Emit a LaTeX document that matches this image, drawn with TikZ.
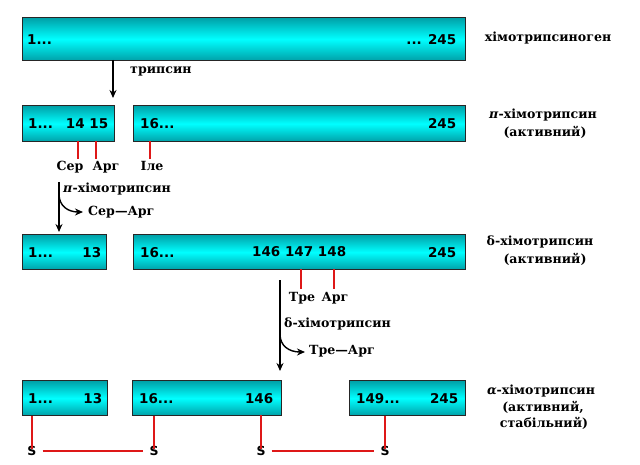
\documentclass[tikz,border=0pt]{standalone}
\usepackage{fontspec}
\setmainfont{DejaVu Serif}
\newfontfamily\numfont{DejaVu Sans}
\usetikzlibrary{arrows.meta}
\definecolor{boxdark}{RGB}{0,160,168}
\definecolor{boxlight}{RGB}{0,255,255}
\definecolor{tick}{RGB}{222,24,24}
\begin{document}
\begin{tikzpicture}[x=1pt,y=-1pt,
  box/.style={draw=black!85, line width=1.4pt, top color=boxdark, bottom color=boxdark, middle color=boxlight, inner sep=0pt, anchor=north west},
  num/.style={font=\numfont\bfseries\fontsize{13.5}{14}\selectfont, inner sep=0pt},
  lab/.style={font=\bfseries\fontsize{12.6}{14}\selectfont, inner sep=0pt, anchor=mid},
  labw/.style={lab, anchor=mid west},
  ess/.style={font=\numfont\bfseries\fontsize{12.5}{14}\selectfont, inner sep=0pt},
  redtick/.style={draw=tick, line width=2.4pt},
  redlink/.style={draw=tick, line width=2pt},
  arr/.style={draw=black, line width=1.4pt, -{Stealth[length=8pt,width=7pt]}}
]
\useasboundingbox (0,0) rectangle (640,465);

% ---- row 1
\node[box, minimum width=443pt, minimum height=43pt] (z) at (22,17) {};
\node[num, anchor=west] (z1) at ([xshift=5pt]z.west) {1...};
\node[num, anchor=east] (z2) at ([xshift=-10pt]z.east) {... 245};
\node[lab] (lz) at (548,39) {хімотрипсиноген};

% ---- row 2
\node[box, minimum width=92pt, minimum height=36pt] (p1) at (22,105) {};
\node[box, minimum width=332pt, minimum height=36pt] (p2) at (133,105) {};
\node[num, anchor=west] (p1a) at ([xshift=6pt]p1.west) {1...};
\node[num, anchor=east] (p1b) at ([xshift=-7pt]p1.east) {14 15};
\node[num, anchor=west] (p2a) at ([xshift=7pt]p2.west) {16...};
\node[num, anchor=east] (p2b) at ([xshift=-10pt]p2.east) {245};
\node[lab] (lp1) at (543,116) {\textit{π}-хімотрипсин};
\node[lab] (lp2) at (545,134) {(активний)};

\coordinate (t1a) at (77.7,141); \coordinate (t1b) at (77.7,159);
\coordinate (t2a) at (96,141);   \coordinate (t2b) at (96,159);
\coordinate (t3a) at (150,141);  \coordinate (t3b) at (150,159);
\draw[redtick] (t1a) -- (t1b);
\draw[redtick] (t2a) -- (t2b);
\draw[redtick] (t3a) -- (t3b);
\node[lab] (ser1) at (70,168) {Сер};
\node[lab] (arg1) at (106,168) {Арг};
\node[lab] (ile) at (152,168) {Іле};

% arrow 1
\coordinate (a1s) at (113,60);
\coordinate (a1e) at (113,98);
\draw[arr] (a1s) -- (a1e);
\node[labw] (tryp) at (130,71) {трипсин};

% arrow 2
\coordinate (a2s) at (59,182);
\coordinate (a2e) at (59,232);
\coordinate (a2m) at (59,194);
\coordinate (a2b) at (83,212);
\draw[arr] (a2s) -- (a2e);
\draw[arr] (a2m) .. controls (59,206) and (68,212) .. (a2b);
\node[labw] (pich) at (63,190) {\textit{π}-хімотрипсин};
\node[labw] (serarg) at (88,213) {Сер—Арг};

% ---- row 3
\node[box, minimum width=84pt, minimum height=35pt] (d1) at (22,234) {};
\node[box, minimum width=332pt, minimum height=35pt] (d2) at (133,234) {};
\node[num, anchor=west] (d1a) at ([xshift=6pt]d1.west) {1...};
\node[num, anchor=east] (d1b) at ([xshift=-6pt]d1.east) {13};
\node[num, anchor=west] (d2a) at ([xshift=7pt]d2.west) {16...};
\node[num, anchor=west] (d2m) at (252,251.5) {146 147 148};
\node[num, anchor=east] (d2b) at ([xshift=-10pt]d2.east) {245};
\node[lab] (ld1) at (540,243) {δ-хімотрипсин};
\node[lab] (ld2) at (545,261) {(активний)};

\coordinate (t4a) at (301,269); \coordinate (t4b) at (301,289);
\coordinate (t5a) at (334,269); \coordinate (t5b) at (334,289);
\draw[redtick] (t4a) -- (t4b);
\draw[redtick] (t5a) -- (t5b);
\node[lab] (tre1) at (302,299) {Тре};
\node[lab] (arg2) at (335,299) {Арг};

% arrow 3
\coordinate (a3s) at (280,280);
\coordinate (a3e) at (280,371);
\coordinate (a3m) at (280,334);
\coordinate (a3b) at (305,352);
\draw[arr] (a3s) -- (a3e);
\draw[arr] (a3m) .. controls (280,346) and (289,352) .. (a3b);
\node[labw] (dch) at (284,325) {δ-хімотрипсин};
\node[labw] (trearg) at (309,352) {Тре—Арг};

% ---- row 4
\node[box, minimum width=85pt, minimum height=35pt] (c1) at (22,380) {};
\node[box, minimum width=149pt, minimum height=35pt] (c2) at (132,380) {};
\node[box, minimum width=116pt, minimum height=35pt] (c3) at (349,380) {};
\node[num, anchor=west] (c1a) at ([xshift=6pt]c1.west) {1...};
\node[num, anchor=east] (c1b) at ([xshift=-6pt]c1.east) {13};
\node[num, anchor=west] (c2a) at ([xshift=7pt]c2.west) {16...};
\node[num, anchor=east] (c2b) at ([xshift=-9pt]c2.east) {146};
\node[num, anchor=west] (c3a) at ([xshift=7pt]c3.west) {149...};
\node[num, anchor=east] (c3b) at ([xshift=-8pt]c3.east) {245};
\node[lab] (la1) at (541,392) {\textit{α}-хімотрипсин};
\node[lab] (la2) at (543,409) {(активний,};
\node[lab] (la3) at (544,425) {стабільний)};

\node[ess] (s1) at (32,451) {S};
\node[ess] (s2) at (154,451) {S};
\node[ess] (s3) at (261,451) {S};
\node[ess] (s4) at (385,451) {S};
\draw[redtick] (s1.north |- c1.south) -- ([yshift=-3pt]s1.north);
\draw[redtick] (s2.north |- c2.south) -- ([yshift=-3pt]s2.north);
\draw[redtick] (261,415) -- ([yshift=-3pt]s3.north);
\draw[redtick] (s4.north |- c3.south) -- ([yshift=-3pt]s4.north);
\draw[redlink] ([xshift=6pt]s1.east) -- ([xshift=-6pt]s2.west);
\draw[redlink] ([xshift=6pt]s3.east) -- ([xshift=-6pt]s4.west);
\end{tikzpicture}
\end{document}
